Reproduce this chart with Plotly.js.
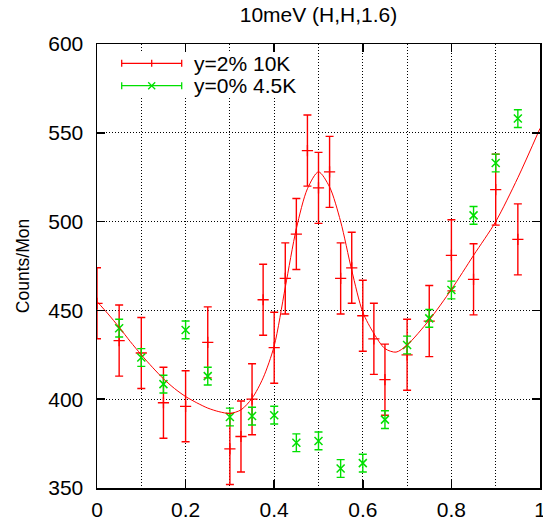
<!DOCTYPE html>
<html>
<head>
<meta charset="utf-8">
<script src="https://cdn.plot.ly/plotly-3.0.1.min.js"></script>
<style>html,body{margin:0;padding:0;background:#fff;}#chart{width:543px;height:525px;}</style>
</head>
<body>
<div id="chart"></div>
<script>
// ---- data ----
const chartTitle = '10meV (H,H,1.6)';
const yLabel = 'Counts/Mon';
const legendLabels = ['y=2% 10K', 'y=0% 4.5K'];

const xRed = [0, 0.05, 0.1, 0.15, 0.2, 0.25, 0.3, 0.325, 0.35, 0.375, 0.4, 0.425, 0.45, 0.475, 0.5, 0.525, 0.55, 0.575, 0.6, 0.625, 0.65, 0.7, 0.75, 0.8, 0.85, 0.9, 0.95];
const yRed = [454, 433, 426, 398, 396, 432, 372, 379, 400, 456, 429, 468, 493, 540, 519, 528, 468, 474, 447, 434, 411, 425, 444, 481, 467.5, 518, 490];
const errRed = [20, 20, 20, 20, 20, 20, 20, 20, 20, 20, 20, 20, 20, 20, 20, 20, 20, 20, 20, 20, 20, 20, 20, 20, 20, 20, 20];

const xGreen = [0.05, 0.1, 0.15, 0.2, 0.25, 0.3, 0.35, 0.4, 0.45, 0.5, 0.55, 0.6, 0.65, 0.7, 0.75, 0.8, 0.85, 0.9, 0.95];
const yGreen = [440, 423.5, 408.5, 439, 413, 390, 390.5, 391, 375.5, 376.5, 361, 364, 388.5, 430.5, 445.5, 461.5, 503.5, 533, 558];
const errGreen = [5, 5, 5, 5, 5, 5, 5, 5, 5, 5, 5, 5, 5, 5, 5, 5, 5, 5, 5];

// fitted curve, points
const xFit = [0, 0.025, 0.05, 0.075, 0.1, 0.125, 0.15, 0.175, 0.2, 0.225, 0.25, 0.275, 0.3, 0.325, 0.35, 0.375, 0.4, 0.425, 0.45, 0.475, 0.5, 0.525, 0.55, 0.575, 0.6, 0.625, 0.65, 0.675, 0.7, 0.75, 0.8, 0.85, 0.9, 0.95, 1.0];
const yFit = [455, 448, 440.5, 432.5, 425, 418, 411.5, 406, 401.5, 398, 395, 393, 392, 394, 400.5, 412, 430, 463, 496, 518.5, 528, 519.5, 500, 472.6, 449, 437, 428.5, 426.5, 430.5, 444.6, 461.8, 481, 500, 524.7, 552.5];

const xTickVals = [0, 0.2, 0.4, 0.6, 0.8, 1];
const xTickText = ['0', '0.2', '0.4', '0.6', '0.8', '1'];
const yTickVals = [350, 400, 450, 500, 550, 600];

// ---- styling ----
const RED = '#ff0000';
const GREEN = '#00e000';
const FONT = 'Liberation Sans, Arial, Helvetica, sans-serif';
const W = 543, H = 525;
const L = 97, R = 540, T = 44, B = 488;
const px2x = p => (p - L) / (R - L);
const px2y = p => (B - p) / (B - T);

const traces = [
  {
    x: xRed, y: yRed, type: 'scatter', mode: 'markers', name: legendLabels[0], showlegend: false,
    marker: {symbol: 'cross-thin', size: 8, line: {color: RED, width: 1.3}, color: RED},
    error_y: {type: 'data', array: errRed, visible: true, color: RED, thickness: 1.4, width: 4}
  },
  {
    x: xGreen, y: yGreen, type: 'scatter', mode: 'markers', name: legendLabels[1], showlegend: false,
    marker: {symbol: 'x-thin', size: 8, line: {color: GREEN, width: 1.5}, color: GREEN},
    error_y: {type: 'data', array: errGreen, visible: true, color: GREEN, thickness: 1.4, width: 4}
  },
  {
    x: xFit, y: yFit, type: 'scatter', mode: 'lines', showlegend: false, hoverinfo: 'skip',
    line: {color: RED, width: 1, shape: 'spline', smoothing: 0.8}
  }
];

// hand-made gnuplot-style key
const keyY = [63.3, 85.7];
const keyX0 = 121.7, keyX1 = 181.7, keyXc = 151.7, cap = 3.5;
const shapes = [
  {type: 'rect', xref: 'paper', yref: 'paper', x0: px2x(106), x1: px2x(305), y0: px2y(96), y1: px2y(52),
   fillcolor: '#ffffff', line: {width: 0}, layer: 'above'}
];
const keyColors = [RED, GREEN];
keyY.forEach((py, i) => {
  const c = keyColors[i];
  const ln = (x0, y0, x1, y1) => shapes.push({type: 'line', xref: 'paper', yref: 'paper',
    x0: px2x(x0), y0: px2y(y0), x1: px2x(x1), y1: px2y(y1), line: {color: c, width: 1.3}, layer: 'above'});
  ln(keyX0, py, keyX1, py);
  ln(keyX0, py - cap, keyX0, py + cap);
  ln(keyX1, py - cap, keyX1, py + cap);
  if (i === 0) {
    ln(keyXc, py - cap, keyXc, py + cap);
  } else {
    ln(keyXc - cap, py - cap, keyXc + cap, py + cap);
    ln(keyXc - cap, py + cap, keyXc + cap, py - cap);
  }
});
const annotations = legendLabels.map((t, i) => ({
  text: t, xref: 'paper', yref: 'paper', x: px2x(192), y: px2y(keyY[i]),
  xanchor: 'left', yanchor: 'middle', showarrow: false,
  font: {family: FONT, size: 21, color: '#000'}
}));

const gridStyle = {showgrid: true, gridcolor: '#000', gridwidth: 1, griddash: '1px,2px'};

const layout = {
  width: W, height: H,
  margin: {l: L, r: W - R, t: T, b: H - B, pad: 0},
  paper_bgcolor: '#fff', plot_bgcolor: '#fff',
  showlegend: false,
  font: {family: FONT, size: 21, color: '#000'},
  title: {text: chartTitle, font: {family: FONT, size: 21, color: '#000'},
          x: 0.5, xref: 'paper', y: 1 - 15 / H, yref: 'container', yanchor: 'middle'},
  xaxis: Object.assign({
    range: [0, 1], tickmode: 'array', tickvals: xTickVals, ticktext: xTickText,
    ticks: 'inside', ticklen: 8, tickwidth: 1.5, tickcolor: '#000',
    showline: true, linecolor: '#000', linewidth: 1.5, mirror: 'ticks',
    zeroline: false, ticklabelstandoff: 2, ticklabeloverflow: 'allow',
    tickfont: {family: FONT, size: 21, color: '#000'},
    minor: {dtick: 0.1, tick0: 0, showgrid: true, gridcolor: '#000', gridwidth: 1, griddash: '1px,2px', ticks: ''}
  }, gridStyle),
  yaxis: Object.assign({
    range: [350, 600], tickmode: 'array', tickvals: yTickVals,
    ticks: 'inside', ticklen: 8, tickwidth: 1.5, tickcolor: '#000',
    showline: true, linecolor: '#000', linewidth: 1.5, mirror: 'ticks',
    zeroline: false, ticklabelstandoff: 8, ticklabeloverflow: 'allow',
    tickfont: {family: FONT, size: 21, color: '#000'},
    title: {text: yLabel, font: {family: FONT, size: 17.5, color: '#000'}, standoff: 14}
  }, gridStyle),
  shapes: shapes,
  annotations: annotations
};

Plotly.newPlot('chart', traces, layout, {displayModeBar: false, staticPlot: true});
</script>
</body>
</html>
